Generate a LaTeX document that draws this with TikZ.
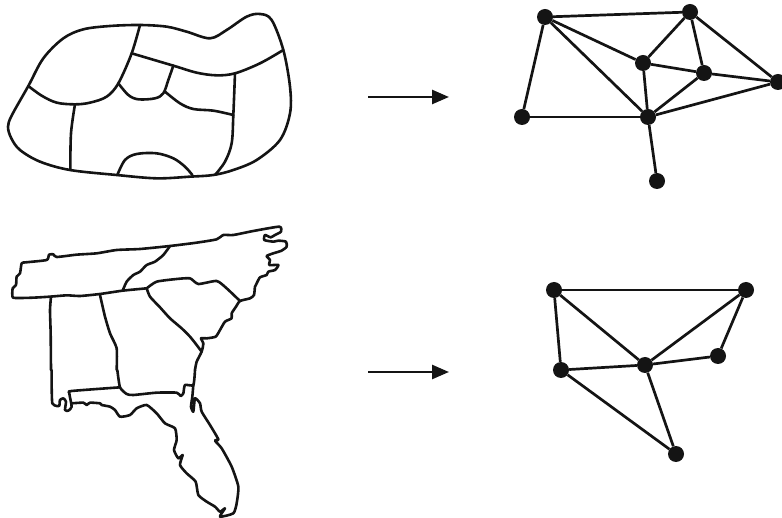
\documentclass[tikz,border=0pt]{standalone}
\usepackage{xcolor}
\usetikzlibrary{arrows.meta}
\definecolor{inkblack}{HTML}{141414}

\begin{document}
\begin{tikzpicture}[
    x=1pt, y=-1pt,
    mapline/.style={draw=inkblack, line width=2.6pt, line join=round, line cap=round},
    vertex/.style={circle, fill=inkblack, minimum size=16pt, inner sep=0pt},
    graphedge/.style={draw=inkblack, line width=2.7pt},
    maparrow/.style={draw=inkblack, line width=2.6pt, -{Triangle[length=17pt,width=14pt]}}
]
\useasboundingbox (0,0) rectangle (782,518);

% abstract map
\begin{scope}[scale=1/3]
\draw[mapline] plot[smooth cycle, tension=0.55] coordinates {
    (36,345) (85,258) (130,175) (190,115) (250,88) (330,78) (420,75) (500,80) (560,95)
    (630,115) (680,90) (740,50) (780,42) (815,60) (850,150) (870,260) (870,340)
    (840,420) (770,480) (700,510) (640,525) (570,530) (470,535) (350,525) (210,510)
    (120,485) (60,450) (34,415) (24,380)};
\draw[mapline] plot[smooth, tension=0.55] coordinates {(420,75) (395,160) (355,250) (320,290) (270,308) (225,313) (170,308) (125,287) (85,258)};
\draw[mapline] plot[smooth, tension=0.55] coordinates {(395,160) (520,197) (590,218) (650,226) (705,220) (780,190) (850,150)};
\draw[mapline] plot[smooth, tension=0.55] coordinates {(355,250) (385,285) (415,298) (465,295) (490,280) (505,240) (520,197)};
\draw[mapline] plot[smooth, tension=0.55] coordinates {(495,275) (540,310) (580,327) (640,332) (700,345)};
\draw[mapline] plot[smooth, tension=0.55] coordinates {(705,220) (700,345) (695,430) (675,485) (645,525)};
\draw[mapline] plot[smooth, tension=0.55] coordinates {(225,313) (213,400) (211,510)};
\draw[mapline] plot[smooth, tension=0.55] coordinates {(352,525) (375,480) (410,462) (470,460) (520,475) (555,500) (577,525)};
\end{scope}

% states, upper part
\begin{scope}[shift={(0,220)}, scale=1/3]
\draw[mapline] plot[smooth, tension=0.35] coordinates {
    (440,205) (368,212) (300,222) (240,228) (200,226) (150,230) (100,233) (60,234) (38,232)
    (38,205) (48,195) (50,170) (60,160) (65,130) (78,127) (140,120) (147,104) (160,103)
    (170,111) (230,104) (290,100) (350,90) (420,87) (510,78) (590,68) (650,58) (670,45)
    (700,45) (760,33) (838,20) (843,35) (825,45) (812,52) (795,45) (793,60) (820,65)
    (835,62) (858,65) (860,80) (845,92) (820,100) (800,108) (810,120) (808,135) (835,135)
    (825,150) (805,155) (800,165) (780,172) (770,190) (765,200) (762,225) (750,235)
    (720,243) (708,260) (695,280) (695,295) (675,305) (660,330) (647,350) (620,355)
    (603,355) (610,370) (605,395) (590,425) (585,450)};
\draw[mapline] plot[smooth, tension=0.35] coordinates {(440,205) (470,185) (530,177) (570,175) (595,192) (650,183) (680,205) (720,243)};
\draw[mapline] plot[smooth, tension=0.35] coordinates {(440,205) (450,230) (480,262) (510,295) (545,325) (570,350) (590,375) (605,395)};
\draw[mapline] plot[smooth, tension=0.35] coordinates {(510,78) (490,105) (465,125) (440,135) (420,155) (400,165) (380,185) (368,212)};
\draw[mapline] plot[smooth, tension=0.35] coordinates {(153,230) (150,270) (152,340) (153,450)};
\draw[mapline] plot[smooth, tension=0.35] coordinates {(300,225) (315,290) (330,340) (350,385) (350,450)};
\end{scope}

% states, lower part
\begin{scope}[shift={(30,370)}, scale=1/3]
\draw[mapline] plot[smooth, tension=0.35] coordinates {
    (65,0) (65,50) (67,100) (80,108) (88,107) (90,90) (100,85) (108,95) (105,120) (115,122)
    (125,110) (118,70) (125,63) (270,52)};
\draw[mapline] plot[smooth, tension=0.35] coordinates {
    (262,0) (270,52) (290,72) (310,75) (380,68) (440,68) (452,78) (460,70) (465,45) (490,45) (495,0)};
\draw[mapline] plot[smooth, tension=0.35] coordinates {
    (125,100) (160,98) (170,105) (180,98) (210,100) (215,105) (240,110) (255,120) (270,140)
    (300,135) (320,115) (350,105) (380,130) (405,160) (435,175) (440,210) (432,240) (445,265)
    (458,255) (450,285) (470,310) (497,335) (505,375) (530,395) (555,410) (570,425) (585,415)
    (570,440) (610,430) (620,400) (625,350) (605,290) (575,235) (555,212) (565,208) (540,165)
    (515,125) (510,100) (495,85) (490,125) (483,110) (487,80) (490,45)};
\end{scope}

% arrows
\coordinate (topfrom) at (368,97);
\coordinate (topto) at (449,97);
\coordinate (lowfrom) at (368,372);
\coordinate (lowto) at (449,372);
\draw[maparrow] (topfrom) -- (topto);
\draw[maparrow] (lowfrom) -- (lowto);

% upper graph
\node[vertex] (u1) at (545,17) {};
\node[vertex] (u2) at (690,12) {};
\node[vertex] (u3) at (643,63) {};
\node[vertex] (u4) at (704,73) {};
\node[vertex] (u5) at (778,82) {};
\node[vertex] (u6) at (648,117) {};
\node[vertex] (u7) at (522,117) {};
\node[vertex] (u8) at (657,181) {};
\foreach \a/\b in {u1/u2,u1/u7,u1/u3,u1/u6,u2/u3,u2/u4,u2/u5,u3/u4,u3/u6,u4/u5,u4/u6,u5/u6,u6/u7,u6/u8}
    \draw[graphedge] (\a) -- (\b);

% lower graph
\node[vertex] (w1) at (554,290) {};
\node[vertex] (w2) at (746,290) {};
\node[vertex] (w3) at (718,356) {};
\node[vertex] (w4) at (645,365) {};
\node[vertex] (w5) at (561,370) {};
\node[vertex] (w6) at (676,454) {};
\foreach \a/\b in {w1/w2,w1/w5,w1/w4,w2/w4,w2/w3,w3/w4,w4/w5,w4/w6,w5/w6}
    \draw[graphedge] (\a) -- (\b);
\end{tikzpicture}
\end{document}
